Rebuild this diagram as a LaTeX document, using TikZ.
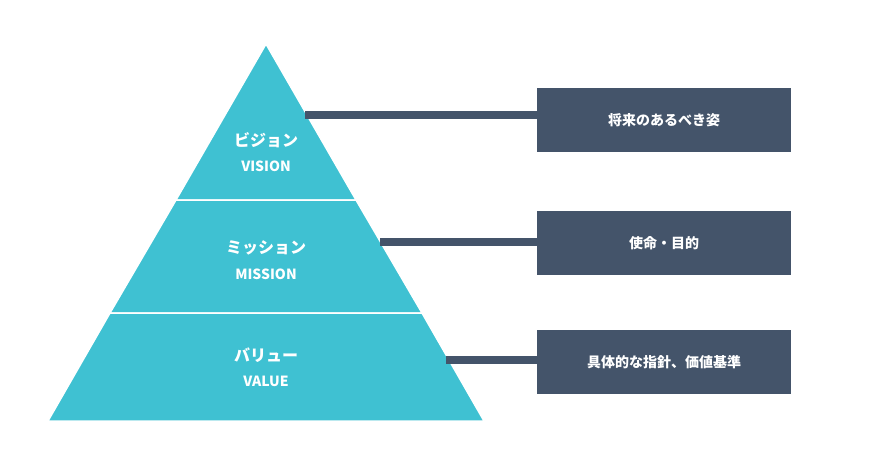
\documentclass[tikz,border=0pt]{standalone}
\usepackage{fontspec}
\newfontfamily\jp{Noto Sans CJK JP}
\usepackage{tikz}
\usetikzlibrary{positioning, calc}
\definecolor{pyr}{HTML}{3FC1D2}
\definecolor{slate}{HTML}{44546A}
\tikzset{
    layer/.style={fill=pyr, draw=white, line width=1.5pt}, % pyramid layers
    lbl/.style={text=white, font=\jp\bfseries\fontsize{16}{16}\selectfont, inner sep=0pt},
    sub/.style={text=white, font=\jp\bfseries\fontsize{14}{14}\selectfont, inner sep=0pt},
    box/.style={fill=slate, minimum width=254pt, minimum height=64pt, inner sep=0pt,
        text=white, font=\jp\bfseries\fontsize{14}{14}\selectfont},
    bar/.style={draw=slate, line width=8pt}
}
\begin{document}
\begin{tikzpicture}[x=1pt, y=-1pt]
    \useasboundingbox (0,0) rectangle (873,460);
    % pyramid
    \draw[layer] (266,44) -- (356,200) -- (176,200) -- cycle;
    \draw[layer] (176,200) -- (356,200) -- (422,313) -- (110,313) -- cycle;
    \draw[layer] (110,313) -- (422,313) -- (484,421) -- (48,421) -- cycle;
    \node[lbl] (vision)  at (266,140) {ビジョン};
    \node[sub] (visionE) at (266,166) {VISION};
    \node[lbl] (mission)  at (266,248) {ミッション};
    \node[sub] (missionE) at (266,274) {MISSION};
    \node[lbl] (value)  at (266,355) {バリュー};
    \node[sub] (valueE) at (266,381) {VALUE};
    % boxes
    \node[box] (b1) at (664,120) {将来のあるべき姿};
    \node[box, below=59pt of b1] (b2) {使命・目的};
    \node[box, below=54pt of b2] (b3) {具体的な指針、価値基準};
    % connectors
    \coordinate (e1) at (305,115);
    \coordinate (e2) at (380,242);
    \coordinate (e3) at (446,360);
    \draw[bar] (e1) -- (e1 -| b1.west);
    \draw[bar] (e2) -- (e2 -| b2.west);
    \draw[bar] (e3) -- (e3 -| b3.west);
\end{tikzpicture}
\end{document}
